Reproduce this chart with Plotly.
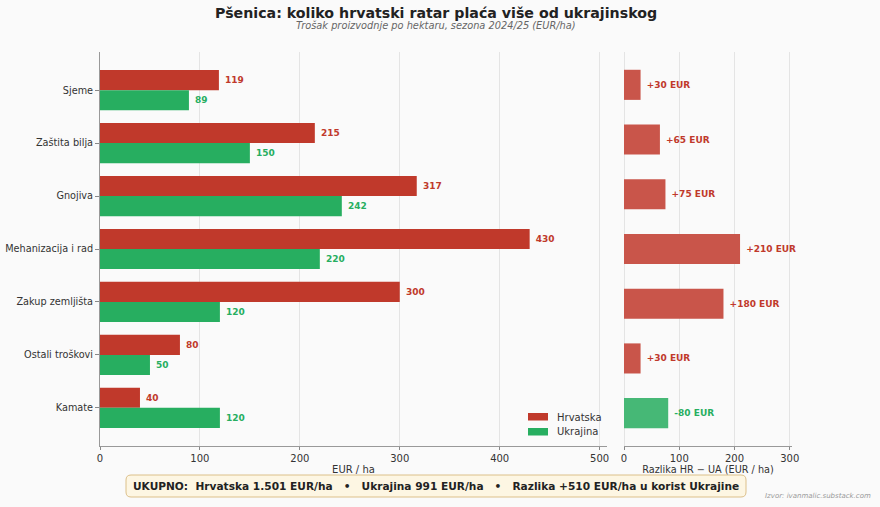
import plotly.graph_objects as go

categories = ["Sjeme", "Zaštita bilja", "Gnojiva", "Mehanizacija i rad",
              "Zakup zemljišta", "Ostali troškovi", "Kamate"]
hrvatska = [119, 215, 317, 430, 300, 80, 40]
ukrajina = [89, 150, 242, 220, 120, 50, 120]
left_ticks = [0, 100, 200, 300, 400, 500]
right_ticks = [0, 100, 200, 300]
series_names = ["Hrvatska", "Ukrajina"]

diff = [h - u for h, u in zip(hrvatska, ukrajina)]
diff_abs = [abs(d) for d in diff]

RED = "#c0392b"
GREEN = "#27ae60"
RED_L = "#c9554a"
GREEN_L = "#46b876"
BG = "#fafafa"
FONT = "DejaVu Sans"
NB = "\u00a0"

W, H = 880, 507
def px(x):
    return x / W
def py(y):
    return (H - y) / H

fig = go.Figure()

fig.add_trace(go.Bar(
    y=categories, x=hrvatska, orientation="h", name=series_names[0],
    marker=dict(color=RED, line=dict(width=0)), width=0.38, offset=-0.38,
    text=[NB + str(v) for v in hrvatska], textposition="outside", constraintext="none",
    textfont=dict(family=FONT, size=9, color=RED, weight="bold"),
    cliponaxis=False, xaxis="x", yaxis="y", showlegend=False,
))
fig.add_trace(go.Bar(
    y=categories, x=ukrajina, orientation="h", name=series_names[1],
    marker=dict(color=GREEN, line=dict(width=0)), width=0.38, offset=0,
    text=[NB + str(v) for v in ukrajina], textposition="outside", constraintext="none",
    textfont=dict(family=FONT, size=9, color=GREEN, weight="bold"),
    cliponaxis=False, xaxis="x", yaxis="y", showlegend=False,
))
fig.add_trace(go.Bar(
    y=categories, x=diff_abs, orientation="h", showlegend=False,
    marker=dict(color=[RED_L if d > 0 else GREEN_L for d in diff], line=dict(width=0)),
    width=0.55,
    text=[NB + (f"+{d} EUR" if d > 0 else f"{d} EUR") for d in diff],
    textposition="outside", constraintext="none",
    textfont=dict(family=FONT, size=9, weight="bold",
                  color=[RED if d > 0 else GREEN for d in diff]),
    cliponaxis=False, xaxis="x2", yaxis="y2",
))

tot_hr = sum(hrvatska)
tot_ua = sum(ukrajina)
tot_d = tot_hr - tot_ua
def fmt(n):
    return f"{n:,}".replace(",", ".")
footer = (f"UKUPNO:  Hrvatska {fmt(tot_hr)} EUR/ha   •   Ukrajina {fmt(tot_ua)} EUR/ha"
          f"   •   Razlika +{fmt(tot_d)} EUR/ha u korist Ukrajine")

axis_common = dict(showgrid=True, gridcolor="#e4e4e4", gridwidth=1,
                   ticks="outside", ticklen=3, tickcolor="#888", linecolor="#999",
                   showline=True, ticklabelstandoff=0,
                   tickfont=dict(family=FONT, size=10, color="#333"))

fig.update_layout(
    width=W, height=H,
    paper_bgcolor=BG, plot_bgcolor=BG,
    margin=dict(l=0, r=0, t=0, b=0),
    barmode="overlay",
    font=dict(family=FONT, color="#333"),
    showlegend=False,
    xaxis=dict(domain=[px(100), px(607)], range=[0, 507.4], tickvals=left_ticks,
               anchor="y", zeroline=False,
               title=dict(text="EUR / ha", standoff=2,
                          font=dict(family=FONT, size=10, color="#333")),
               automargin=False, **axis_common),
    yaxis=dict(domain=[py(446), py(52)], range=[6.72, -0.72], anchor="x",
               showgrid=False, zeroline=False, showline=True, linecolor="#999",
               ticks="outside", ticklen=4, tickcolor="#888",
               tickfont=dict(family=FONT, size=9.7, color="#333"), automargin=False),
    xaxis2=dict(domain=[px(624), px(792)], range=[0, 304], tickvals=right_ticks,
                anchor="y2", zeroline=True, zerolinecolor="#e4e4e4", zerolinewidth=1,
                title=dict(text="Razlika HR − UA (EUR / ha)", standoff=2,
                           font=dict(family=FONT, size=9.7, color="#333")),
                automargin=False, **axis_common),
    yaxis2=dict(domain=[py(446), py(52)], range=[6.6, -0.6], anchor="x2",
                showgrid=False, zeroline=False, showline=False, showticklabels=False,
                ticks="", automargin=False),
    annotations=[
        dict(text="<b>Pšenica: koliko hrvatski ratar plaća više od ukrajinskog</b>",
             x=px(436), y=py(13), xref="paper", yref="paper", showarrow=False,
             xanchor="center", yanchor="middle",
             font=dict(family=FONT, size=14.2, color="#222")),
        dict(text="<i>Trošak proizvodnje po hektaru, sezona 2024/25 (EUR/ha)</i>",
             x=px(436), y=py(25), xref="paper", yref="paper", showarrow=False,
             xanchor="center", yanchor="middle",
             font=dict(family=FONT, size=9.8, color="#666")),
        dict(text=f"<b>{footer}</b>",
             x=px(436), y=py(486), xref="paper", yref="paper", showarrow=False,
             xanchor="center", yanchor="middle",
             font=dict(family=FONT, size=10.6, color="#222")),
        dict(text="<i>Izvor: ivanmalic.substack.com</i>",
             x=px(873), y=py(496), xref="paper", yref="paper", showarrow=False,
             xanchor="right", yanchor="middle",
             font=dict(family=FONT, size=7, color="#999")),
        dict(text=series_names[0], x=px(555), y=py(417), xref="paper", yref="paper",
             showarrow=False, xanchor="left", yanchor="middle",
             font=dict(family=FONT, size=10, color="#333")),
        dict(text=series_names[1], x=px(555), y=py(431.5), xref="paper", yref="paper",
             showarrow=False, xanchor="left", yanchor="middle",
             font=dict(family=FONT, size=10, color="#333")),
    ],
)

# manual legend swatches
fig.add_shape(type="rect", xref="paper", yref="paper",
              x0=px(528), x1=px(548), y0=py(413), y1=py(420.5),
              fillcolor=RED, line=dict(width=0))
fig.add_shape(type="rect", xref="paper", yref="paper",
              x0=px(528), x1=px(548), y0=py(428), y1=py(435.5),
              fillcolor=GREEN, line=dict(width=0))

# rounded footer box
x0, x1, y0, y1, r = 126, 746, 475, 497, 5
path = (f"M {px(x0+r)},{py(y0)} L {px(x1-r)},{py(y0)} Q {px(x1)},{py(y0)} {px(x1)},{py(y0+r)} "
        f"L {px(x1)},{py(y1-r)} Q {px(x1)},{py(y1)} {px(x1-r)},{py(y1)} "
        f"L {px(x0+r)},{py(y1)} Q {px(x0)},{py(y1)} {px(x0)},{py(y1-r)} "
        f"L {px(x0)},{py(y0+r)} Q {px(x0)},{py(y0)} {px(x0+r)},{py(y0)} Z")
fig.add_shape(type="path", path=path, xref="paper", yref="paper",
              fillcolor="#fdf6e3", line=dict(color="#dcc08a", width=1), layer="below")

fig.write_html("out.html")
